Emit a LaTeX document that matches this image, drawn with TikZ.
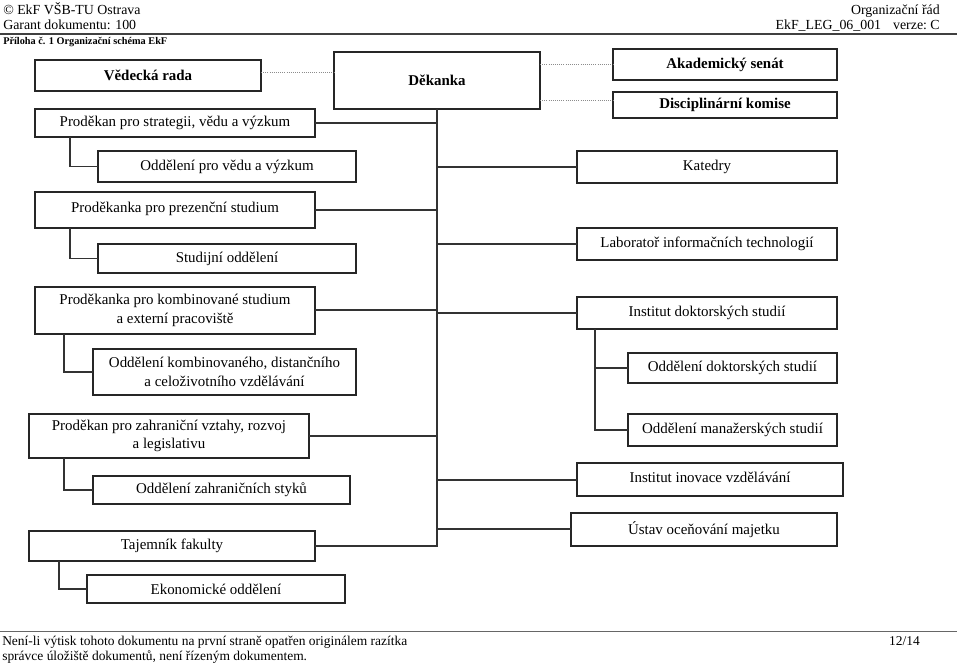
\documentclass[tikz,border=0pt]{standalone}
\usepackage{fontspec}
\setmainfont{Liberation Serif}
\usetikzlibrary{calc}
\newcommand{\boxfont}{\fontsize{11.2}{13.9}\selectfont}
\newcommand{\boldboxfont}{\fontsize{11.2}{13.9}\selectfont\bfseries}
\tikzset{
  orgbox/.style={draw=black!85, line width=0.9pt, inner sep=0pt, outer sep=0pt,
    align=center, font=\boxfont, text=black},
  boldbox/.style={orgbox, font=\boldboxfont},
  sz/.style 2 args={minimum width=#1*0.75pt, minimum height=#2*0.75pt},
  conn/.style={draw=black!80, line width=0.9pt},
  dotl/.style={draw=black!45, densely dotted, line width=0.6pt},
  hdr/.style={inner sep=0pt, font=\fontsize{10.4}{12}\selectfont},
  ftr/.style={inner sep=0pt, font=\fontsize{10.1}{12}\selectfont},
}
\begin{document}
\begin{tikzpicture}[x=0.75pt, y=-0.75pt]
\useasboundingbox (0,0) rectangle (960,663);

% header
\node[hdr, anchor=base west] (h1) at (3,14.5) {© EkF VŠB-TU Ostrava};
\node[hdr, anchor=base west] (h2) at (3,30) {Garant dokumentu: 100};
\node[hdr, anchor=base east] (h3) at (940,14.5) {Organizační řád};
\node[hdr, anchor=base east] (h4) at (940,30) {EkF\_LEG\_06\_001\hspace{9pt}verze:\ C};
\draw[line width=1.5pt, black!75] (0,34) -- (957,34);
\node[inner sep=0pt, anchor=base west, font=\fontsize{7.7}{9}\selectfont\bfseries] (pril) at (3,45) {Příloha č. 1 Organizační schéma EkF};

% boxes
\node[boldbox, sz={226}{31}] (vr) at (148,75.5) {Vědecká rada};
\node[boldbox, sz={206}{57}] (dek) at (437,80.5) {Děkanka};
\node[boldbox, sz={224}{31}] (akad) at (725,64.5) {Akademický senát};
\node[boldbox, sz={224}{26}] (disc) at (725,105) {Disciplinární komise};

\node[orgbox, sz={280}{28}] (pstrat) at (175,123) {Proděkan pro strategii, vědu a výzkum};
\node[orgbox, sz={258}{31}] (oddveda) at (227,166.5) {Oddělení pro vědu a výzkum};
\node[orgbox, sz={260}{32}] (katedry) at (707,167) {Katedry};
\node[orgbox, sz={280}{36}, text depth=4.5pt] (prez) at (175,210) {Proděkanka pro prezenční studium};
\node[orgbox, sz={258}{29}] (studijni) at (227,258.5) {Studijní oddělení};
\node[orgbox, sz={260}{32}] (lab) at (707,244) {Laboratoř informačních technologií};
\node[orgbox, sz={280}{47}] (komb) at (175,310.5) {Proděkanka pro kombinované studium\\a externí pracoviště};
\node[orgbox, sz={260}{32}] (instdok) at (707,313) {Institut doktorských studií};
\node[orgbox, sz={263}{46}] (oddkomb) at (224.5,372) {Oddělení kombinovaného, distančního\\a celoživotního vzdělávání};
\node[orgbox, sz={209}{30}] (odddok) at (732.5,368) {Oddělení doktorských studií};
\node[orgbox, sz={209}{32}] (oddman) at (732.5,430) {Oddělení manažerských studií};
\node[orgbox, sz={280}{44}] (zahr) at (169,436) {Proděkan pro zahraniční vztahy, rozvoj\\a legislativu};
\node[orgbox, sz={266}{33}, text depth=4pt] (instinov) at (710,479.5) {Institut inovace vzdělávání};
\node[orgbox, sz={257}{28}] (oddzahr) at (221.5,490) {Oddělení zahraničních styků};
\node[orgbox, sz={266}{33}] (ustav) at (704,529.5) {Ústav oceňování majetku};
\node[orgbox, sz={286}{30}] (taj) at (172,546) {Tajemník fakulty};
\node[orgbox, sz={258}{28}] (ekon) at (216,589) {Ekonomické oddělení};

% dotted links
\coordinate (v1) at ($(vr.east)+(0,-3.5)$);
\draw[dotl] (v1) -- (v1 -| dek.west);
\draw[dotl] (akad.west -| dek.east) -- (akad.west);
\coordinate (d1) at ($(disc.west)+(0,-5)$);
\draw[dotl] (d1 -| dek.east) -- (d1);

% connector anchor points on whole pixels
\coordinate (kombE) at ($(komb.east)+(0,-0.5)$);
\coordinate (inovW) at ($(instinov.west)+(0,0.5)$);
\coordinate (ustavW) at ($(ustav.west)+(0,-0.5)$);

% trunk
\draw[conn] (dek.south) -- (dek.south |- taj.east) -- (taj.east);
\draw[conn] (pstrat.east) -- (pstrat.east -| dek.south);
\draw[conn] (prez.east) -- (prez.east -| dek.south);
\draw[conn] (kombE) -- (kombE -| dek.south);
\draw[conn] (zahr.east) -- (zahr.east -| dek.south);
\draw[conn] (katedry.west -| dek.south) -- (katedry.west);
\draw[conn] (lab.west -| dek.south) -- (lab.west);
\draw[conn] (instdok.west -| dek.south) -- (instdok.west);
\draw[conn] (inovW -| dek.south) -- (inovW);
\draw[conn] (ustavW -| dek.south) -- (ustavW);

% sub connectors
\draw[conn] ($(pstrat.south west)+(35,0)$) |- (oddveda.west);
\draw[conn] ($(prez.south west)+(35,0)$) |- (studijni.west);
\draw[conn] ($(komb.south west)+(29,0)$) |- (oddkomb.west);
\draw[conn] ($(zahr.south west)+(35,0)$) |- (oddzahr.west);
\draw[conn] ($(taj.south west)+(30,0)$) |- (ekon.west);
\draw[conn] ($(instdok.south west)+(18,0)$) |- (odddok.west);
\draw[conn] ($(instdok.south west)+(18,0)$) |- (oddman.west);

% footer
\draw[line width=0.6pt, black!60] (0,631) -- (957,631);
\node[ftr, anchor=base west] (f1) at (2,645) {Není-li výtisk tohoto dokumentu na první straně opatřen originálem razítka};
\node[ftr, anchor=base west] (f2) at (2,660) {správce úložiště dokumentů, není řízeným dokumentem.};
\node[ftr, anchor=base east] (f3) at (920,645) {12/14};
\end{tikzpicture}
\end{document}
